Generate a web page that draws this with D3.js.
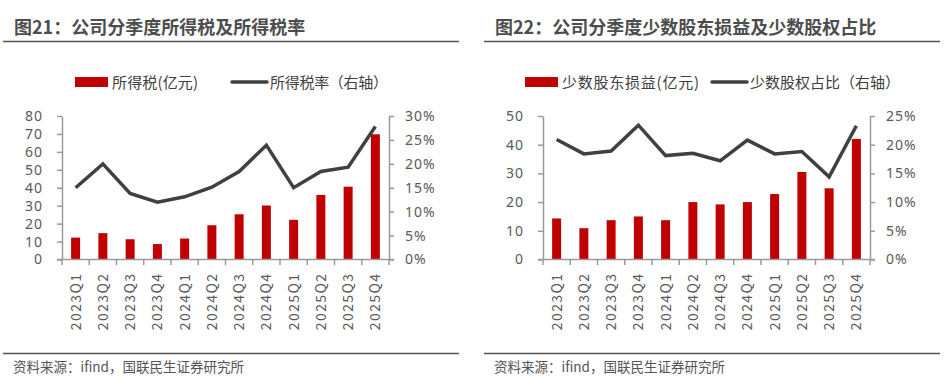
<!DOCTYPE html>
<html>
<head>
<meta charset="utf-8">
<script src="https://cdn.jsdelivr.net/npm/d3@7"></script>
<style>
  body { margin: 0; background: #fff; }
  svg { display: block; }
  text { font-family: "Noto Sans CJK SC", "Noto Sans", sans-serif; }
</style>
</head>
<body>
<script>
// quarters shared by both charts
var quarters = ["2023Q1", "2023Q2", "2023Q3", "2023Q4", "2024Q1", "2024Q2",
                "2024Q3", "2024Q4", "2025Q1", "2025Q2", "2025Q3", "2025Q4"];

// fig 21: income tax (亿元) and tax rate
var taxAmount = [12.2, 14.7, 11.3, 8.6, 11.7, 19.1, 25.2, 30.1, 22.1, 36.0, 40.6, 69.8];
var taxRate = [0.150, 0.200, 0.138, 0.120, 0.131, 0.151, 0.184, 0.239, 0.150, 0.184, 0.193, 0.278];
var taxLeftTicks = [0, 10, 20, 30, 40, 50, 60, 70, 80];
var taxRightTicks = [0, 0.05, 0.10, 0.15, 0.20, 0.25, 0.30];

// fig 22: minority interest (亿元) and minority share
var minorityAmount = [14.3, 10.9, 13.7, 15.0, 13.7, 20.0, 19.2, 20.0, 22.8, 30.5, 24.8, 42.0];
var minorityShare = [0.209, 0.184, 0.189, 0.234, 0.181, 0.185, 0.172, 0.208, 0.184, 0.188, 0.144, 0.233];
var minLeftTicks = [0, 10, 20, 30, 40, 50];
var minRightTicks = [0, 0.05, 0.10, 0.15, 0.20, 0.25];

var svg = d3.select("body").append("svg")
    .attr("width", 946)
    .attr("height", 391);

var red = "#C00000", dark = "#404040", axisColor = "#9a9a9a", labelColor = "#595959";

function drawPanel(cfg) {
  // everything inside a panel is relative to its left edge (ox)
  var g = svg.append("g").attr("transform", `translate(${cfg.ox},0)`);

  // title + rules
  g.append("text")
      .attr("x", cfg.titleX)
      .attr("y", 34)
      .attr("fill", "#4d4d4d")
      .style("font-size", "18px")
      .style("font-weight", "bold")
      .text(cfg.title);
  g.append("line")
      .attr("x1", cfg.ruleX1).attr("x2", cfg.ruleX2)
      .attr("y1", 41.5).attr("y2", 41.5)
      .attr("stroke", "#555").attr("stroke-width", 1.3);
  g.append("line")
      .attr("x1", cfg.ruleX1).attr("x2", cfg.ruleX2)
      .attr("y1", 353.5).attr("y2", 353.5)
      .attr("stroke", "#555").attr("stroke-width", 1.3);
  g.append("text")
      .attr("x", cfg.titleX - 1)
      .attr("y", 372)
      .attr("fill", "#555")
      .style("font-size", "13.5px")
      .text("资料来源：ifind，国联民生证券研究所");

  // scales
  var x = d3.scaleBand()
      .domain(quarters)
      .range([cfg.left, cfg.right])
      .paddingInner(0.67)
      .paddingOuter(0.335);
  var y = d3.scaleLinear()
      .domain([0, d3.max(cfg.leftTicks)])
      .range([259.5, 116]);
  var y2 = d3.scaleLinear()
      .domain([0, d3.max(cfg.rightTicks)])
      .range([259.5, 116]);

  // bars
  g.selectAll("rect.bar")
      .data(cfg.bars)
      .enter().append("rect")
      .attr("class", "bar")
      .attr("x", (d, i) => x(quarters[i]))
      .attr("width", x.bandwidth())
      .attr("y", d => y(d))
      .attr("height", d => y(0) - y(d))
      .attr("fill", red);

  // line
  var line = d3.line()
      .x((d, i) => x(quarters[i]) + x.bandwidth() / 2)
      .y(d => y2(d));
  g.append("path")
      .datum(cfg.line)
      .attr("fill", "none")
      .attr("stroke", dark)
      .attr("stroke-width", 3.5)
      .attr("d", line);

  // left axis
  var leftAxis = g.append("g")
      .attr("transform", `translate(${cfg.left},0)`)
      .call(d3.axisLeft(y).tickValues(cfg.leftTicks).tickSize(5).tickSizeOuter(0).tickPadding(14));
  // right axis
  var rightAxis = g.append("g")
      .attr("transform", `translate(${cfg.right},0)`)
      .call(d3.axisRight(y2).tickValues(cfg.rightTicks).tickSize(5).tickSizeOuter(0).tickPadding(11)
        .tickFormat(d3.format(".0%")));
  // bottom axis: ticks at band boundaries
  var edges = d3.scaleLinear().domain([0, quarters.length]).range([cfg.left, cfg.right]);
  var bottom = g.append("g").attr("transform", "translate(0,259.5)");
  bottom.append("line")
      .attr("x1", cfg.left - 5).attr("x2", cfg.right + 5)
      .attr("stroke", axisColor).attr("stroke-width", 1.5);
  bottom.selectAll("line.tick")
      .data(d3.range(quarters.length + 1))
      .enter().append("line")
      .attr("class", "tick")
      .attr("x1", d => edges(d)).attr("x2", d => edges(d))
      .attr("y1", 0).attr("y2", 5.5)
      .attr("stroke", axisColor).attr("stroke-width", 1.5);
  bottom.selectAll("text")
      .data(quarters)
      .enter().append("text")
      .attr("transform", d => `translate(${x(d) + x.bandwidth() / 2 + 5},13) rotate(-90)`)
      .attr("text-anchor", "end")
      .attr("fill", labelColor)
      .style("font-size", "14px")
      .style("letter-spacing", "1.4px")
      .text(d => d);

  [leftAxis, rightAxis].forEach(a => {
    a.select(".domain").attr("stroke", axisColor).attr("stroke-width", 1.5);
    a.selectAll(".tick line").attr("stroke", axisColor).attr("stroke-width", 1.5);
    a.selectAll(".tick text")
        .attr("fill", labelColor)
        .style("font-size", "14px")
        .style("letter-spacing", "1px")
        .style("font-family", "'Noto Sans', sans-serif");
  });

  // legend
  var lg = g.append("g").attr("transform", "translate(0,82)");
  lg.append("rect")
      .attr("x", cfg.leg1).attr("y", -5)
      .attr("width", 33).attr("height", 10)
      .attr("fill", red);
  lg.append("text")
      .attr("x", cfg.leg1 + 37).attr("y", 5.5)
      .attr("fill", dark)
      .attr("textLength", cfg.len1)
      .style("font-size", "15px")
      .text(cfg.barName);
  lg.append("line")
      .attr("x1", cfg.leg2).attr("x2", cfg.leg2 + 35)
      .attr("stroke", dark).attr("stroke-width", 3.5)
      .attr("stroke-linecap", "round");
  lg.append("text")
      .attr("x", cfg.leg2 + 38).attr("y", 5.5)
      .attr("fill", dark)
      .attr("textLength", cfg.len2)
      .style("font-size", "15px")
      .text(cfg.lineName);
}

drawPanel({
  ox: 0, titleX: 14, ruleX1: 3, ruleX2: 459,
  title: "图21：公司分季度所得税及所得税率",
  left: 62, right: 389,
  bars: taxAmount, line: taxRate,
  leftTicks: taxLeftTicks, rightTicks: taxRightTicks,
  leg1: 75, leg2: 232, len1: 86, len2: 118,
  barName: "所得税(亿元)", lineName: "所得税率（右轴）"
});

drawPanel({
  ox: 470, titleX: 25, ruleX1: 14, ruleX2: 470,
  title: "图22：公司分季度少数股东损益及少数股权占比",
  left: 73, right: 400,
  bars: minorityAmount, line: minorityShare,
  leftTicks: minLeftTicks, rightTicks: minRightTicks,
  leg1: 55, leg2: 242, len1: 137, len2: 150,
  barName: "少数股东损益(亿元)", lineName: "少数股权占比（右轴）"
});
</script>
</body>
</html>
